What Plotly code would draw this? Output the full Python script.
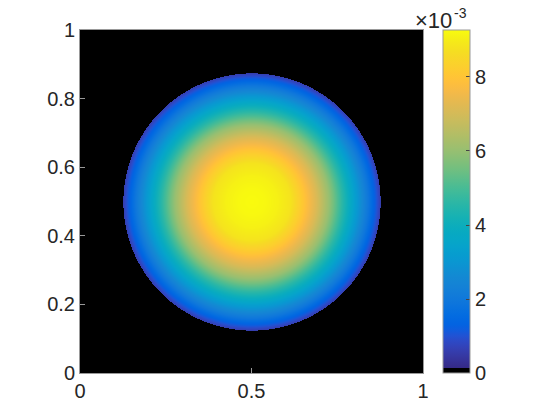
import numpy as np
import plotly.graph_objects as go

# radial profile of the field (r / R  ->  value)
radius_frac = [0.0, 0.1, 0.2, 0.3, 0.4, 0.5, 0.6, 0.7, 0.8, 0.9, 0.95, 1.0]
u_vals = [9.27e-3, 9.22e-3, 9.08e-3, 8.82e-3, 8.05e-3, 7.15e-3, 6.0e-3,
          4.6e-3, 3.3e-3, 2.0e-3, 1.3e-3, 0.6e-3]
disk_center = (0.5, 0.5)
disk_radius = 0.375
u_max = 9.27e-3

x_ticks = [0, 0.5, 1]
y_ticks = [0, 0.2, 0.4, 0.6, 0.8, 1]
cbar_ticks = [0, 2e-3, 4e-3, 6e-3, 8e-3]
cbar_labels = ["0", "2", "4", "6", "8"]

# MATLAB parula (64 steps)
parula = [
    [0.2081, 0.1663, 0.5292], [0.2116, 0.1898, 0.5777], [0.2123, 0.2138, 0.6270],
    [0.2081, 0.2386, 0.6771], [0.1959, 0.2645, 0.7279], [0.1707, 0.2919, 0.7792],
    [0.1253, 0.3242, 0.8303], [0.0591, 0.3598, 0.8683], [0.0117, 0.3875, 0.8820],
    [0.0060, 0.4086, 0.8828], [0.0165, 0.4266, 0.8786], [0.0329, 0.4430, 0.8720],
    [0.0498, 0.4586, 0.8641], [0.0629, 0.4737, 0.8554], [0.0723, 0.4887, 0.8467],
    [0.0779, 0.5040, 0.8384], [0.0793, 0.5200, 0.8312], [0.0749, 0.5375, 0.8263],
    [0.0641, 0.5570, 0.8240], [0.0488, 0.5772, 0.8228], [0.0343, 0.5966, 0.8199],
    [0.0265, 0.6137, 0.8135], [0.0239, 0.6287, 0.8038], [0.0231, 0.6418, 0.7913],
    [0.0228, 0.6535, 0.7768], [0.0267, 0.6642, 0.7607], [0.0384, 0.6743, 0.7436],
    [0.0590, 0.6838, 0.7254], [0.0843, 0.6928, 0.7062], [0.1133, 0.7015, 0.6859],
    [0.1453, 0.7098, 0.6646], [0.1801, 0.7177, 0.6424], [0.2178, 0.7250, 0.6193],
    [0.2586, 0.7317, 0.5954], [0.3022, 0.7376, 0.5712], [0.3482, 0.7424, 0.5473],
    [0.3953, 0.7459, 0.5244], [0.4420, 0.7481, 0.5033], [0.4871, 0.7491, 0.4840],
    [0.5300, 0.7491, 0.4661], [0.5709, 0.7485, 0.4494], [0.6099, 0.7473, 0.4337],
    [0.6473, 0.7456, 0.4188], [0.6834, 0.7435, 0.4044], [0.7184, 0.7411, 0.3905],
    [0.7525, 0.7384, 0.3768], [0.7858, 0.7356, 0.3633], [0.8185, 0.7327, 0.3498],
    [0.8507, 0.7299, 0.3360], [0.8824, 0.7274, 0.3217], [0.9139, 0.7258, 0.3063],
    [0.9450, 0.7261, 0.2886], [0.9739, 0.7314, 0.2666], [0.9938, 0.7455, 0.2403],
    [0.9990, 0.7653, 0.2164], [0.9955, 0.7861, 0.1967], [0.9880, 0.8066, 0.1794],
    [0.9789, 0.8271, 0.1633], [0.9697, 0.8481, 0.1475], [0.9626, 0.8705, 0.1309],
    [0.9589, 0.8949, 0.1132], [0.9598, 0.9218, 0.0948], [0.9661, 0.9514, 0.0755],
    [0.9763, 0.9831, 0.0538],
]

n = 344
xs = np.linspace(0, 1, n)
ys = np.linspace(0, 1, n)
X, Y = np.meshgrid(xs, ys)
r = np.hypot(X - disk_center[0], Y - disk_center[1]) / disk_radius
z = np.where(r <= 1.0, np.interp(r, radius_frac, u_vals), 0.0)

# lowest of 64 bins is black, the rest is parula
step = 1 / 64
colorscale = [[0, "black"], [step, "black"]]
for i, c in enumerate(parula):
    rgb = "rgb(%d,%d,%d)" % tuple(round(v * 255) for v in c)
    colorscale.append([step + (1 - step) * i / (len(parula) - 1), rgb])

font = dict(family="Liberation Sans, Arial", size=20, color="#262626")

fig = go.Figure(go.Heatmap(
    x=xs, y=ys, z=z,
    zmin=0, zmax=u_max,
    colorscale=colorscale,
    colorbar=dict(
        x=1.058, xanchor="left", xpad=0, ypad=0,
        y=0.5, len=1.0, thickness=27,
        tickvals=cbar_ticks, ticktext=cbar_labels,
        ticks="inside", ticklen=4, tickcolor="#444444",
        outlinecolor="#999999", outlinewidth=1,
        tickfont=font,
    ),
    hoverinfo="skip",
))

fig.update_xaxes(range=[0, 1], tickvals=x_ticks, ticktext=["0", "0.5", "1"],
                 showgrid=False, zeroline=False, showline=True, mirror=True,
                 linecolor="#999999", ticks="inside", ticklen=5,
                 tickcolor="#999999", tickfont=font)
fig.update_yaxes(range=[0, 1], tickvals=y_ticks,
                 ticktext=["0", "0.2", "0.4", "0.6", "0.8", "1"],
                 showgrid=False, zeroline=False, showline=True, mirror=True,
                 linecolor="#999999", ticks="inside", ticklen=5,
                 tickcolor="#999999", tickfont=font)

# colorbar exponent, written as base and superscript
fig.add_annotation(x=1.032, y=1.029, xref="paper", yref="paper",
                   text="×10", showarrow=False,
                   xanchor="center", yanchor="middle",
                   font=dict(family="Liberation Sans, Arial", size=22, color="#262626"))
fig.add_annotation(x=1.108, y=1.05, xref="paper", yref="paper",
                   text="-3", showarrow=False,
                   xanchor="center", yanchor="middle",
                   font=dict(family="Liberation Sans, Arial", size=14, color="#262626"))

# page body adds an 8px offset, so the figure is drawn 8px smaller
fig.update_layout(width=552, height=412,
                  margin=dict(l=72, r=137, t=22, b=47),
                  paper_bgcolor="white", plot_bgcolor="black")

fig.write_html("out.html")
